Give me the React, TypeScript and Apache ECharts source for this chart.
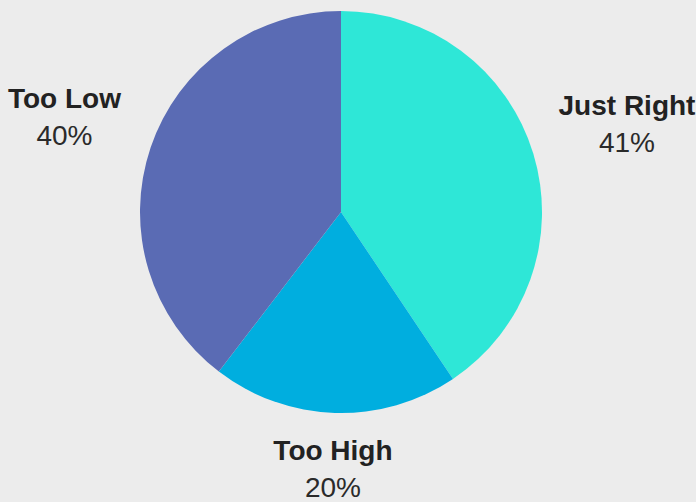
import React, { useEffect, useRef } from "react";
import * as echarts from "echarts";

const categories = ["Just Right", "Too High", "Too Low"];
const values = [41, 20, 40];
const colors = ["#2ee7d7", "#00aedf", "#5a6bb4"];

const CX = 341;
const CY = 212;
const RADIUS = 201;
const GAP = 23;

export default function App() {
  const ref = useRef<HTMLDivElement>(null);
  useEffect(() => {
    if (!ref.current) return;
    const chart = echarts.init(ref.current, null, { renderer: "svg" });
    const total = values.reduce((a, b) => a + b, 0);
    chart.setOption({
      animation: false,
      backgroundColor: "#ececec",
      series: [
        {
          type: "pie",
          center: [CX, CY],
          radius: [0, RADIUS],
          startAngle: 90,
          clockwise: true,
          avoidLabelOverlap: false,
          itemStyle: { borderWidth: 0 },
          emphasis: { disabled: true },
          labelLine: { show: false },
          label: {
            show: true,
            position: "outside",
            formatter: (p: any) => `{n|${p.name}}\n{v|${p.value}%}`,
            rich: {
              n: {
                fontFamily: "Liberation Sans, Arial, sans-serif",
                fontSize: 28,
                fontWeight: "bold",
                color: "#222222",
                lineHeight: 37,
                align: "center",
              },
              v: {
                fontFamily: "Liberation Sans, Arial, sans-serif",
                fontSize: 28,
                color: "#2a2a2a",
                lineHeight: 37,
                align: "center",
              },
            },
          },
          labelLayout: (params: any) => {
            const i = params.dataIndex;
            let cum = 0;
            for (let k = 0; k < i; k++) cum += values[k];
            const theta = ((cum + values[i] / 2) / total) * Math.PI * 2;
            const dx = Math.sin(theta);
            const dy = -Math.cos(theta);
            const w = params.labelRect.width;
            const h = params.labelRect.height;
            const s = (Math.abs(dx) * w) / 2 + (Math.abs(dy) * h) / 2;
            const R = RADIUS + GAP + s + (dx < 0 && dy < 0 ? 4 : 0);
            return {
              x: CX + dx * R,
              y: CY + dy * R - 1,
              align: "center",
              verticalAlign: "middle",
            };
          },
          data: categories.map((c, i) => ({
            name: c,
            value: values[i],
            itemStyle: { color: colors[i] },
          })),
        },
      ],
    });
    return () => chart.dispose();
  }, []);
  return (
    <div
      ref={ref}
      style={{ position: "fixed", left: 0, top: 0, width: 696, height: 502 }}
    />
  );
}
